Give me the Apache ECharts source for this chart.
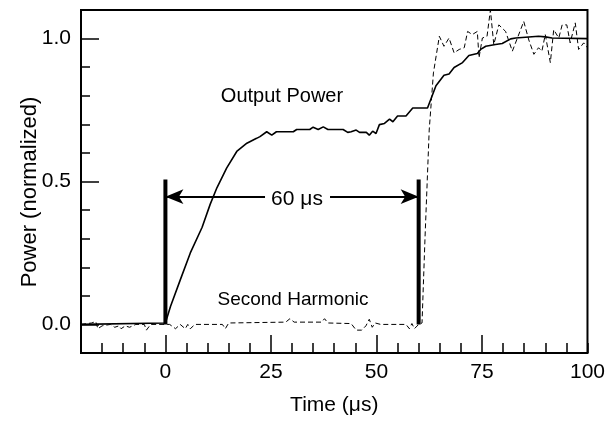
<!DOCTYPE html>
<html><head><meta charset="utf-8">
<script src="https://cdn.jsdelivr.net/npm/echarts@6/dist/echarts.min.js"></script>
<style>html,body{margin:0;padding:0;background:#fff}#c{width:608px;height:421px}</style>
</head><body><div id="c"></div>
<script>
// Output power (solid)
const powerTime = [-20, 0, 1.2, 3.5, 5.9, 8.7, 10.6, 12.2, 14.5, 16.9, 19.3, 21.6, 22.4, 24.0, 25.2, 26.3, 30.3, 31.1, 34.2, 35.0, 36.2, 37.4, 38.5, 42.1, 43.2, 44.0, 45.2, 46.0, 47.6, 48.3, 49.1, 49.9, 50.7, 51.9, 53.1, 53.9, 55.0, 57.0, 58.6, 62.1, 64.1, 66.0, 67.2, 68.4, 70.4, 71.9, 73.9, 74.7, 75.9, 78.2, 79.8, 81.8, 83.0, 88.4, 90.0, 91.6, 100];
const powerValue = [0, 0.005, 0.063, 0.155, 0.25, 0.34, 0.42, 0.478, 0.547, 0.605, 0.634, 0.651, 0.657, 0.674, 0.662, 0.674, 0.674, 0.682, 0.682, 0.69, 0.682, 0.691, 0.682, 0.682, 0.672, 0.674, 0.68, 0.672, 0.672, 0.662, 0.676, 0.668, 0.699, 0.703, 0.718, 0.709, 0.729, 0.729, 0.757, 0.757, 0.835, 0.872, 0.876, 0.899, 0.916, 0.941, 0.948, 0.962, 0.973, 0.979, 0.983, 0.999, 1.002, 1.008, 1.006, 1.002, 1.0];
// Second harmonic (dashed)
const shgTime = [-20, -17.5, -16.5, -16, -15, -13, -12, -11, -10.5, -9.5, -8.5, -7, -5, -4.5, -3.5, 0, 1, 2.4, 3.5, 4.7, 5.3, 5.9, 7, 13.5, 14.2, 15, 28.5, 29.5, 30.5, 37, 37.7, 38.5, 44, 45.2, 46.5, 47.5, 48.3, 49, 49.7, 51, 57, 57.8, 58.4, 59, 60, 60.8, 61.5, 62.5, 63.5, 64.9, 66, 67.2, 68.4, 69.6, 70.8, 71.6, 72.7, 73.9, 74.3, 75.1, 76.2, 77, 77.8, 79, 80.6, 82.2, 83.4, 84.9, 86.1, 87.3, 88.4, 89.2, 90, 91.2, 92, 93.2, 94, 95.1, 95.9, 97.1, 97.9, 99.1, 100];
const shgValue = [0, 0.005, 0.01, -0.015, -0.005, 0, -0.01, -0.005, -0.015, -0.005, -0.01, 0, 0, -0.02, 0, 0, 0, -0.015, 0, -0.015, 0, -0.015, 0, 0, -0.015, 0.005, 0.008, 0.02, 0.008, 0.008, 0.02, 0.005, 0.003, -0.02, -0.02, -0.005, 0.018, -0.01, 0.005, 0, 0, -0.015, 0.003, -0.015, 0, 0.005, 0.3, 0.68, 0.88, 1.008, 0.973, 1.002, 0.95, 0.962, 0.968, 1.025, 1.014, 1.025, 0.933, 1.002, 1.008, 1.1, 0.979, 1.048, 1.025, 0.956, 1.002, 1.06, 0.995, 0.945, 0.968, 0.956, 1.014, 0.916, 1.031, 1.002, 1.048, 1.048, 0.985, 1.055, 0.962, 0.985, 0.968];
// 60 µs marker
const markerTimes = [0, 60];
const markerTop = 0.507;
const arrowLevel = 0.447;
const arrowGap = [23.6, 39];
// Axis ticks/labels
const xMajorTicks = [0, 25, 50, 75];
const xLabels = [0, 25, 50, 75, 100];
const yMajorTicks = [0, 0.5, 1.0];
const yLabels = [0, 0.5, 1.0];

const FONT = 'Liberation Sans, Arial, Helvetica, sans-serif';
const chart = echarts.init(document.getElementById('c'));
const zip = (a, b) => a.map((v, i) => [v, b[i]]);

const xBase = {type: 'value', min: -20, max: 100, position: 'bottom', splitLine: {show: false}, axisLine: {show: false, onZero: false}};
const yBase = {type: 'value', min: -0.1, max: 1.1, position: 'left', splitLine: {show: false}, axisLine: {show: false, onZero: false}};

chart.setOption({
  animation: false,
  grid: {left: 81, right: 19, top: 10, bottom: 63, show: true, borderColor: '#000', borderWidth: 2, backgroundColor: 'transparent'},
  xAxis: [
    Object.assign({}, xBase, {interval: 5, axisTick: {inside: true, length: 10, lineStyle: {color: '#000', width: 1.5}}, axisLabel: {show: false}}),
    Object.assign({}, xBase, {interval: 5,
      axisTick: {inside: true, length: 18, customValues: xMajorTicks, lineStyle: {color: '#000', width: 1.5}},
      axisLabel: {customValues: xLabels, margin: 9, color: '#000', fontSize: 21, fontFamily: FONT},
      name: 'Time (\u03bcs)', nameLocation: 'middle', nameGap: 42, nameTextStyle: {color: '#000', fontSize: 21, fontFamily: FONT}})
  ],
  yAxis: [
    Object.assign({}, yBase, {interval: 0.1, axisTick: {inside: true, length: 9, lineStyle: {color: '#000', width: 1.5}}, axisLabel: {show: false}}),
    Object.assign({}, yBase, {interval: 0.1,
      axisTick: {inside: true, length: 18, customValues: yMajorTicks, lineStyle: {color: '#000', width: 1.5}},
      axisLabel: {customValues: yLabels, margin: 10, color: '#000', fontSize: 21, fontFamily: FONT, formatter: v => Number(v).toFixed(1)}})
  ],
  series: [
    {type: 'line', data: zip(shgTime, shgValue), symbol: 'none', lineStyle: {color: '#000', width: 1, type: [5, 3]}, z: 2},
    {type: 'line', data: zip(powerTime, powerValue), symbol: 'none', lineStyle: {color: '#000', width: 1.6}, z: 3},
    {type: 'line', data: [[markerTimes[0], 0], [markerTimes[0], markerTop]], symbol: 'none', lineStyle: {color: '#000', width: 4}, z: 4},
    {type: 'line', data: [[markerTimes[1], 0], [markerTimes[1], markerTop]], symbol: 'none', lineStyle: {color: '#000', width: 4}, z: 4,
      markLine: {silent: true, symbol: ['arrow', 'none'], symbolSize: [11, 18], animation: false,
        lineStyle: {color: '#000', width: 2, type: 'solid'}, label: {show: false},
        data: [
          [{coord: [markerTimes[0], arrowLevel], symbol: 'arrow'}, {coord: [arrowGap[0], arrowLevel], symbol: 'none'}],
          [{coord: [arrowGap[1], arrowLevel], symbol: 'none'}, {coord: [markerTimes[1], arrowLevel], symbol: 'arrow'}]
        ]}}
  ],
  graphic: [
    {type: 'text', x: 282, y: 96, style: {text: 'Output Power', fill: '#000', font: '20px ' + FONT, textAlign: 'center', textVerticalAlign: 'middle'}},
    {type: 'text', x: 297, y: 199, style: {text: '60 \u03bcs', fill: '#000', font: '21px ' + FONT, textAlign: 'center', textVerticalAlign: 'middle'}},
    {type: 'text', x: 293, y: 300, style: {text: 'Second Harmonic', fill: '#000', font: '19px ' + FONT, textAlign: 'center', textVerticalAlign: 'middle'}},
    {type: 'text', x: 30, y: 192, rotation: Math.PI / 2, style: {text: 'Power (normalized)', fill: '#000', font: '22px ' + FONT, textAlign: 'center', textVerticalAlign: 'middle'}}
  ]
});
</script></body></html>
